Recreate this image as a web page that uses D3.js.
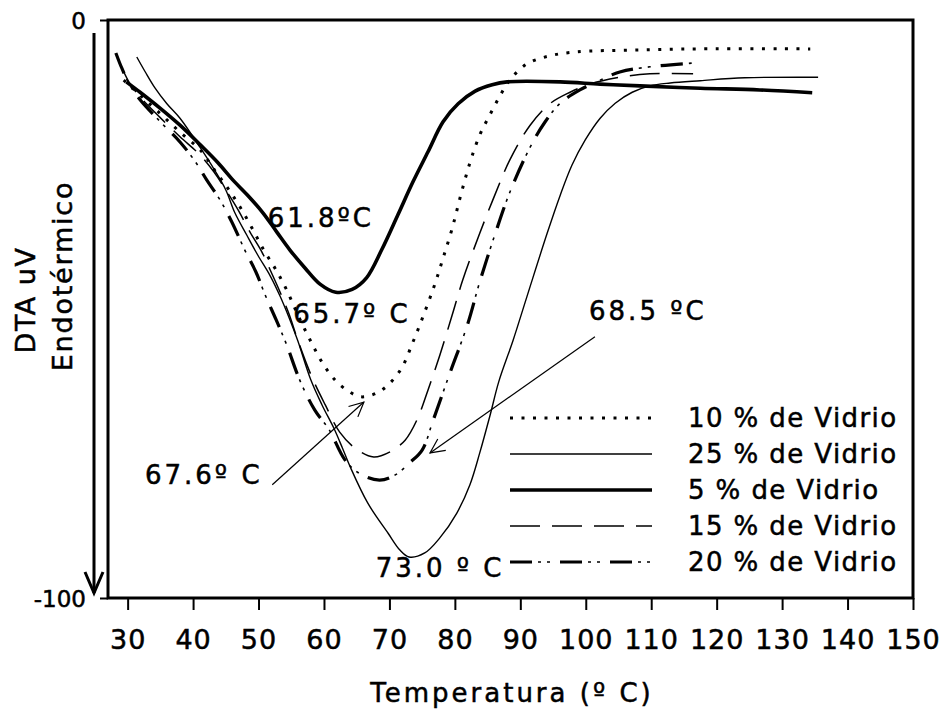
<!DOCTYPE html>
<html>
<head>
<meta charset="utf-8">
<script src="https://cdn.jsdelivr.net/npm/d3@7/dist/d3.min.js"></script>
<style>
  html, body { margin: 0; padding: 0; background: #fff; }
  svg { display: block; font-family: "DejaVu Sans", Verdana, sans-serif; }
  svg text { fill: #000; stroke: #000; stroke-width: 0.5px; }
</style>
</head>
<body>
<svg id="chart" width="944" height="709"></svg>
<script>
// DTA curves: temperature (ºC) against signal (uV), endothermic downwards
const temp5 = [29.8, 31.9, 34.9, 38.0, 41.1, 43.8, 46.1, 48.4, 50.7, 52.8, 54.8, 57.1, 59.4, 61.8, 64.3, 66.5, 68.8, 71.3, 73.6, 75.9, 78.2, 80.5, 83.1, 85.7, 88.0, 96.1, 102.2, 108.3, 117.5, 126.6, 134.6];
const dta5  = [-10.7, -12.5, -15.2, -18.2, -21.6, -24.7, -27.7, -30.4, -33.4, -36.7, -39.8, -42.9, -45.7, -47.1, -46.6, -44.6, -39.8, -33.7, -28.0, -22.8, -17.6, -14.5, -12.3, -11.2, -10.7, -10.7, -11.1, -11.4, -11.8, -12.1, -12.6];

const temp10 = [29.4, 31.9, 34.9, 38.0, 41.1, 43.3, 45.3, 47.2, 49.0, 50.8, 52.7, 54.3, 56.0, 57.9, 59.7, 61.7, 63.7, 65.7, 68.6, 71.6, 73.6, 75.4, 77.0, 78.2, 79.6, 80.9, 82.3, 83.8, 85.4, 86.9, 88.4, 91.0, 94.5, 98.7, 107.2, 117.5, 134.3];
const dta10  = [-10.4, -13.0, -16.1, -19.4, -22.5, -26.0, -29.1, -32.4, -36.0, -39.8, -43.3, -46.7, -51.0, -55.4, -59.2, -62.3, -64.2, -65.2, -64.2, -60.7, -55.7, -50.5, -45.5, -41.2, -36.0, -30.3, -24.7, -19.9, -16.3, -13.1, -10.4, -7.6, -6.2, -5.5, -5.2, -5.0, -5.0];

const temp15 = [29.0, 30.4, 31.9, 34.9, 38.0, 41.1, 43.2, 45.0, 46.9, 48.7, 50.5, 51.8, 53.3, 54.7, 56.0, 58.2, 60.2, 62.4, 64.9, 67.6, 70.1, 72.4, 74.2, 75.9, 77.7, 79.6, 81.2, 83.8, 86.1, 88.4, 91.5, 94.5, 97.6, 100.6, 105.2, 109.8, 116.4];
const dta15  = [-8.0, -11.1, -13.3, -16.8, -20.2, -23.4, -26.3, -29.4, -32.9, -36.7, -40.1, -43.3, -47.1, -51.0, -55.4, -61.9, -66.6, -71.3, -74.2, -75.6, -74.7, -72.7, -69.2, -64.0, -58.0, -51.0, -45.0, -36.9, -30.3, -24.2, -18.2, -14.5, -12.5, -11.1, -9.9, -9.3, -9.3];

const temp20 = [28.2, 29.1, 30.4, 31.9, 34.9, 38.0, 40.4, 42.1, 44.1, 45.9, 47.9, 49.6, 51.1, 52.7, 54.3, 56.3, 58.6, 60.8, 63.2, 65.5, 68.5, 70.9, 73.1, 75.0, 76.7, 79.3, 81.9, 83.8, 86.1, 88.4, 91.5, 93.8, 96.1, 99.1, 102.2, 105.2, 109.8, 117.0];
const dta20  = [-5.7, -8.3, -11.4, -13.8, -17.5, -21.1, -24.6, -27.7, -31.1, -34.9, -39.8, -43.6, -47.8, -51.9, -56.2, -62.3, -67.5, -70.9, -76.1, -78.5, -79.6, -78.7, -76.6, -74.4, -69.2, -60.9, -52.8, -45.3, -37.2, -29.8, -22.0, -17.6, -14.4, -12.1, -10.4, -9.0, -8.1, -7.4];

const temp25 = [31.4, 32.7, 34.2, 36.0, 38.0, 41.1, 43.3, 45.0, 46.4, 48.2, 49.9, 51.8, 53.3, 54.7, 56.0, 58.0, 59.7, 61.5, 62.8, 64.0, 66.7, 69.8, 71.6, 73.0, 75.4, 77.7, 80.3, 82.3, 83.8, 85.4, 86.7, 88.9, 91.0, 94.1, 96.1, 97.9, 99.9, 102.2, 104.5, 107.1, 109.8, 112.9, 117.5, 124.3, 135.5];
const dta25  = [-6.4, -9.0, -11.8, -14.5, -17.0, -22.1, -26.0, -29.4, -33.4, -37.2, -40.7, -44.3, -47.8, -51.6, -55.5, -62.3, -66.6, -70.6, -74.0, -77.3, -83.6, -88.8, -91.7, -92.9, -92.2, -89.6, -85.3, -80.4, -74.9, -68.3, -62.6, -55.4, -47.9, -36.9, -30.3, -25.1, -20.8, -17.0, -14.4, -12.5, -11.4, -10.9, -10.5, -10.0, -9.9];

const xTicks = [30, 40, 50, 60, 70, 80, 90, 100, 110, 120, 130, 140, 150];
const yTicks = [0, -100];

// Legend order
const seriesNames = ["10 % de Vidrio", "25 % de Vidrio", "5 % de Vidrio", "15 % de Vidrio", "20 % de Vidrio"];

// Peak annotations: text anchor (T, DTA)
const peakLabels = ["61.8ºC", "65.7º C", "68.5 ºC", "67.6º C", "73.0 º C"];
const peakLabelT = [51.4, 55.3, 100.5, 32.65, 67.9];
const peakLabelV = [-35.8, -52.4, -51.9, -80.3, -96.4];
// Pointer arrows: from (T, DTA) to (T, DTA)
const arrowFromT = [52.1, 101.4];
const arrowFromV = [-80.4, -54.8];
const arrowToT = [66.1, 76.2];
const arrowToV = [-66.1, -74.9];

const svg = d3.select("#chart");
const margin = { top: 20, right: 31, bottom: 111, left: 108 };
const W = 944, H = 709;
const iw = W - margin.left - margin.right;
const ih = H - margin.top - margin.bottom;

const x = d3.scaleLinear().domain([27, 150]).range([margin.left, margin.left + iw]);
const y = d3.scaleLinear().domain([0, -100]).range([margin.top, margin.top + ih]);

const styles = {
  "10 % de Vidrio": [{ w: 3, dash: "3 8.5" }],
  "25 % de Vidrio": [{ w: 1.4, dash: null }],
  "5 % de Vidrio": [{ w: 3.6, dash: null }],
  "15 % de Vidrio": [{ w: 1.5, dash: "30 12" }],
  "20 % de Vidrio": [{ w: 3.2, dash: "22 28" }, { w: 1.6, dash: "0 28 3 6 3 10" }]
};

const series = [
  { name: "10 % de Vidrio", t: temp10, v: dta10 },
  { name: "25 % de Vidrio", t: temp25, v: dta25 },
  { name: "5 % de Vidrio", t: temp5, v: dta5 },
  { name: "15 % de Vidrio", t: temp15, v: dta15 },
  { name: "20 % de Vidrio", t: temp20, v: dta20 }
];

const line = d3.line()
  .x(d => x(d[0]))
  .y(d => y(d[1]))
  .curve(d3.curveCatmullRom.alpha(0.5));

const curves = svg.append("g").attr("class", "curves");
series.forEach(s => {
  const pts = s.t.map((t, i) => [t, s.v[i]]);
  styles[s.name].forEach(st => {
    curves.append("path")
      .datum(pts)
      .attr("d", line)
      .attr("fill", "none")
      .attr("stroke", "#000")
      .attr("stroke-width", st.w)
      .attr("stroke-dasharray", st.dash)
      .attr("stroke-linejoin", "round");
  });
});

// Plot frame
svg.append("rect")
  .attr("x", margin.left).attr("y", margin.top)
  .attr("width", iw).attr("height", ih)
  .attr("fill", "none").attr("stroke", "#000").attr("stroke-width", 3);

// X axis
const xAxis = svg.append("g")
  .attr("transform", `translate(0,${margin.top + ih})`)
  .call(d3.axisBottom(x).tickValues(xTicks).tickSize(12).tickSizeOuter(0).tickFormat(d => String(d)));
xAxis.select(".domain").remove();
xAxis.selectAll(".tick line").attr("stroke", "#000").attr("stroke-width", 2);
xAxis.selectAll(".tick text")
  .attr("y", 51).attr("dy", 0)
  .style("font-size", "27px")
  .style("letter-spacing", "1px")
  .style("font-family", "'DejaVu Sans', Verdana, sans-serif");

// Y axis
const yAxis = svg.append("g")
  .attr("transform", `translate(${margin.left},0)`)
  .call(d3.axisLeft(y).tickValues(yTicks).tickSize(8).tickPadding(14).tickFormat(d => String(d)));
yAxis.select(".domain").remove();
yAxis.selectAll(".tick line").attr("stroke", "#000").attr("stroke-width", 2);
yAxis.selectAll(".tick text")
  .attr("dy", "0.36em")
  .style("font-size", "23px")
  .style("font-family", "'DejaVu Sans', Verdana, sans-serif");

// Endothermic direction arrow
const ax = margin.left - 14;
const ayTop = y(0) + 13, ayBot = y(-100) - 5;
svg.append("line")
  .attr("x1", ax).attr("x2", ax).attr("y1", ayTop).attr("y2", ayBot)
  .attr("stroke", "#000").attr("stroke-width", 3);
svg.append("path")
  .attr("d", `M${ax - 9},${ayBot - 21} L${ax},${ayBot} L${ax + 9},${ayBot - 21}`)
  .attr("fill", "none").attr("stroke", "#000").attr("stroke-width", 3);

// Axis titles
svg.append("text")
  .attr("transform", "translate(35,300) rotate(-90)")
  .attr("text-anchor", "middle")
  .style("font-size", "27px")
  .style("letter-spacing", "1.5px")
  .text("DTA uV");
svg.append("text")
  .attr("transform", "translate(72,276) rotate(-90)")
  .attr("text-anchor", "middle")
  .style("font-size", "27px")
  .style("letter-spacing", "1.8px")
  .text("Endotérmico");
svg.append("text")
  .attr("x", 512).attr("y", 702)
  .attr("text-anchor", "middle")
  .style("font-size", "26px")
  .style("letter-spacing", "3px")
  .text("Temperatura (º C)");

// Peak labels
peakLabels.forEach((txt, i) => {
  svg.append("text")
    .attr("x", x(peakLabelT[i])).attr("y", y(peakLabelV[i]))
    .style("font-size", "26px")
    .style("letter-spacing", "3px")
    .text(txt);
});

// Pointer arrows with open heads
arrowFromT.forEach((t0, i) => {
  const x0 = x(t0), y0 = y(arrowFromV[i]);
  const x1 = x(arrowToT[i]), y1 = y(arrowToV[i]);
  svg.append("line")
    .attr("x1", x0).attr("y1", y0).attr("x2", x1).attr("y2", y1)
    .attr("stroke", "#000").attr("stroke-width", 1.2);
  const ang = Math.atan2(y1 - y0, x1 - x0);
  const len = 16, spread = 0.45;
  const p1 = [x1 - len * Math.cos(ang - spread), y1 - len * Math.sin(ang - spread)];
  const p2 = [x1 - len * Math.cos(ang + spread), y1 - len * Math.sin(ang + spread)];
  svg.append("path")
    .attr("d", `M${p1[0]},${p1[1]} L${x1},${y1} L${p2[0]},${p2[1]}`)
    .attr("fill", "none").attr("stroke", "#000").attr("stroke-width", 1.2);
});

// Legend
const legend = svg.append("g").attr("class", "legend");
seriesNames.forEach((name, i) => {
  const ly = 418 + i * 36;
  styles[name].forEach(st => {
    legend.append("line")
      .attr("x1", 510).attr("x2", 652).attr("y1", ly).attr("y2", ly)
      .attr("stroke", "#000")
      .attr("stroke-width", st.w)
      .attr("stroke-dasharray", st.dash);
  });
  legend.append("text")
    .attr("x", 688).attr("y", ly + 9)
    .style("font-size", "26px")
    .style("letter-spacing", "1.4px")
    .text(name);
});
</script>
</body>
</html>
